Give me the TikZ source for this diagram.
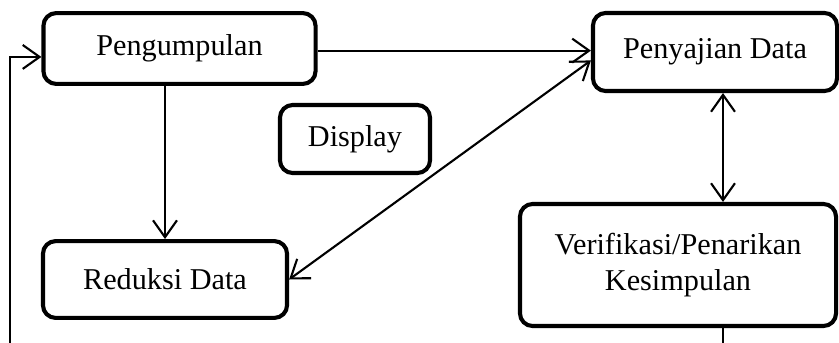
\documentclass[tikz,border=0pt]{standalone}
\usepackage{fontspec}
\setmainfont{Liberation Serif}
\usetikzlibrary{arrows.meta,positioning}

\tikzset{
  stage/.style={draw, line width=2.9pt, rounded corners=9pt, align=center,
    inner sep=0pt, font=\fontsize{21.5}{26}\selectfont},
  flow/.style={line width=1.5pt}
}

\begin{document}
\begin{tikzpicture}[x=0.025cm,y=-0.025cm,>={Straight Barb[length=12pt,width=17pt]}]
  \useasboundingbox (0,0) rectangle (839,342);
  \clip (0,0) rectangle (839,342);

  % Stages
  \node[stage, minimum width=6.8cm,  minimum height=1.77cm] (kumpul)  at (179.5,48.5) {Pengumpulan};
  \node[stage, minimum width=6.1cm,  minimum height=1.95cm] (saji)    at (715,52)     {Penyajian Data};
  \node[stage, minimum width=3.75cm, minimum height=1.7cm]  (display) at (355,139)    {Display};
  \node[stage, minimum width=6.1cm,  minimum height=1.92cm] (reduksi) at (165,279.5)  {Reduksi Data};
  \node[stage, minimum width=7.9cm,  minimum height=3.05cm] (verif)   at (678,265)
    {Verifikasi/Penarikan\\Kesimpulan};

  % Loop coordinates
  \coordinate (masuk)      at ([yshift=-6pt]kumpul.west);
  \coordinate (bawahkanan) at (723,370);
  \coordinate (bawahkiri)  at (10,370);

  % Connectors
  \draw[flow,->] ([yshift=-1.5pt]kumpul.east) -- ([yshift=-1.5pt]kumpul.east -| saji.west);
  \draw[flow,->] (reduksi.north |- kumpul.south) -- (reduksi.north);
  \draw[flow,<->] (reduksi.east) -- ([yshift=-6pt]saji.west);
  \draw[flow,<->] (bawahkanan |- saji.south) -- (bawahkanan |- verif.north);
  \draw[flow,->] (bawahkanan |- verif.south) -- (bawahkanan) -- (bawahkiri)
    -- (bawahkiri |- masuk) -- (masuk);
\end{tikzpicture}
\end{document}
